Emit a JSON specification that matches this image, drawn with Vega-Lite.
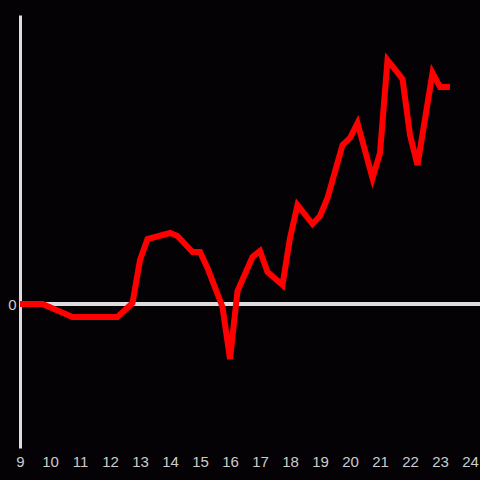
{
  "$schema": "https://vega.github.io/schema/vega-lite/v6.json",
  "width": 460,
  "height": 433,
  "autosize": {"type": "none"},
  "padding": {"left": 20, "top": 15, "right": 0, "bottom": 32},
  "background": "#040205",
  "config": {
    "view": {"stroke": null},
    "axis": {"labelFont": "Liberation Sans", "labelFontSize": 15, "labelColor": "#cccccc", "grid": false, "ticks": false}
  },
  "data": {"values": [
    {"t": 9.0, "v": 0}, {"t": 9.75, "v": 0}, {"t": 10.75, "v": -1.3}, {"t": 12.25, "v": -1.3},
    {"t": 12.75, "v": 0.1}, {"t": 13.0, "v": 4.4}, {"t": 13.25, "v": 6.5}, {"t": 14.0, "v": 7.1},
    {"t": 14.25, "v": 6.8}, {"t": 14.75, "v": 5.2}, {"t": 15.0, "v": 5.2}, {"t": 15.25, "v": 3.6},
    {"t": 15.75, "v": -0.3}, {"t": 16.0, "v": -5.5}, {"t": 16.25, "v": 1.3}, {"t": 16.75, "v": 4.7},
    {"t": 17.0, "v": 5.3}, {"t": 17.25, "v": 3.2}, {"t": 17.75, "v": 1.9}, {"t": 18.0, "v": 6.6},
    {"t": 18.25, "v": 9.9}, {"t": 18.75, "v": 8.0}, {"t": 19.0, "v": 8.8}, {"t": 19.25, "v": 10.6},
    {"t": 19.75, "v": 15.9}, {"t": 20.0, "v": 16.6}, {"t": 20.25, "v": 18.1}, {"t": 20.75, "v": 12.6},
    {"t": 21.0, "v": 15.1}, {"t": 21.25, "v": 24.4}, {"t": 21.75, "v": 22.5}, {"t": 22.0, "v": 16.9},
    {"t": 22.25, "v": 13.9}, {"t": 22.75, "v": 23.1}, {"t": 23.0, "v": 21.7}, {"t": 23.33, "v": 21.7}
  ]},
  "layer": [
    {
      "mark": {"type": "rule", "color": "#dddddd", "strokeWidth": 3},
      "encoding": {"y": {"datum": 0, "type": "quantitative", "scale": {"domain": [-14.4, 28.9]}}}
    },
    {
      "mark": {"type": "line", "color": "#ff0000", "strokeWidth": 6, "strokeJoin": "miter", "strokeCap": "butt"},
      "encoding": {
        "x": {"field": "t", "type": "quantitative", "scale": {"domain": [9, 24.333], "nice": false, "zero": false},
          "axis": {"title": null, "domain": false, "values": [9,10,11,12,13,14,15,16,17,18,19,20,21,22,23,24], "labelPadding": 6, "labelFlush": false}},
        "y": {"field": "v", "type": "quantitative", "scale": {"domain": [-14.4, 28.9], "nice": false, "zero": false},
          "axis": {"title": null, "domain": true, "domainColor": "#dddddd", "domainWidth": 3, "values": [0], "labelPadding": 4}}
      }
    }
  ]
}
